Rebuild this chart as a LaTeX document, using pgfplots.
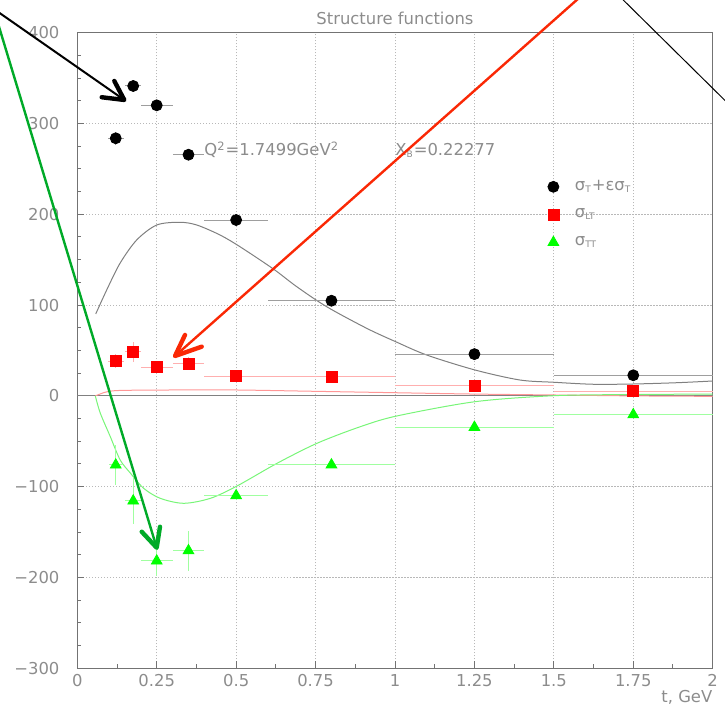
\documentclass[border=0pt]{standalone}
\usepackage{fontspec}
\setmainfont{DejaVu Sans}
\usepackage{pgfplots}
\pgfplotsset{compat=1.18}
\definecolor{txt}{gray}{0.55}
\definecolor{frame}{gray}{0.45}
\definecolor{gridc}{gray}{0.72}
\definecolor{blkcurve}{gray}{0.5}
\definecolor{blkerr}{gray}{0.62}
\definecolor{rederr}{RGB}{255,175,175}
\definecolor{grnerr}{RGB}{160,255,160}
\definecolor{redcurve}{RGB}{255,150,150}
\definecolor{grncurve}{RGB}{120,245,120}
\definecolor{arrred}{RGB}{250,40,5}
\definecolor{arrgrn}{RGB}{0,170,40}
\newcommand{\fs}{\fontsize{8.2}{9.5}\selectfont}
\newcommand{\sub}[1]{\textsubscript{\fontsize{4.5}{5}\selectfont #1}}

\pgfplotstableread{
x y ex ey
0.121 283.7 0.025 7
0.176 341.3 0.025 7
0.25 320.0 0.05 3
0.35 265.6 0.05 3
0.50 193.7 0.10 3
0.80 104.8 0.20 3
1.25 46.0 0.25 3
1.75 22.7 0.25 3
}\blackdata
\pgfplotstableread{
x y ex ey
0.121 38.4 0.025 8
0.176 48.7 0.025 11
0.25 31.5 0.05 5
0.35 35.5 0.05 7
0.50 21.6 0.10 3
0.80 20.8 0.20 3
1.25 10.9 0.25 3
1.75 5.0 0.25 3
}\reddata
\pgfplotstableread{
x y ex ey
0.121 -76.1 0.02 22
0.176 -115.7 0.025 25
0.25 -181.8 0.05 17
0.35 -170.5 0.05 22
0.50 -109.9 0.10 5
0.80 -76.0 0.20 3
1.25 -34.6 0.25 3
1.75 -20.7 0.25 3
}\greendata

\begin{document}
\begin{tikzpicture}
\begin{axis}[
  at={(0,0)}, anchor=south west, scale only axis,
  width=317.7pt, height=317.8pt,
  xmin=0, xmax=2, ymin=-300, ymax=400,
  clip=false,
  xtick={0,0.25,0.5,0.75,1,1.25,1.5,1.75,2},
  xticklabels={0,0.25,0.5,0.75,1,1.25,1.5,1.75,2},
  ytick={-300,-200,-100,0,100,200,300,400},
  yticklabels={−300,−200,−100,0,100,200,300,400},
  minor x tick num=1, minor y tick num=3,
  tick align=inside, tick pos=left,
  major tick length=3.5pt, minor tick length=2pt,
  grid=major,
  major grid style={gridc, dash pattern=on 0.6pt off 0.9pt, line width=0.4pt},
  axis line style={frame, line width=0.5pt},
  tick style={frame, line width=0.5pt},
  ticklabel style={font=\fs, text=txt},
  xticklabel style={yshift=0.5pt},
  yticklabel style={xshift=-5.4pt},
  legend style={at={(axis cs:1.48,200)}, anchor=west, draw=none, fill=none,
    font=\fs, text=txt, row sep=4.75pt, column sep=6.5pt, inner sep=0pt,
    nodes={inner sep=1.5pt}},
  legend cell align=left,
]
% zero line
\addplot[blkcurve, line width=0.5pt, forget plot] coordinates {(0,0) (2,0)};
% model curves
\addplot[blkcurve, line width=0.5pt, smooth, forget plot] coordinates {
(0.058,90.2)(0.0925,116.6)(0.1344,146.0)(0.187,171.7)(0.25,188.2)(0.3225,191.2)
(0.376,188.2)(0.4492,177.2)(0.512,164.3)(0.617,139.8)(0.6906,120.3)(0.785,98.2)
(0.911,74.4)(1.002,59.7)(1.10,45)(1.252,28.5)(1.393,17.5)(1.5,15)(1.624,12.8)
(1.75,13.1)(1.887,14.5)(2.0,16.4)};
\addplot[redcurve, line width=0.5pt, smooth, forget plot] coordinates {
(0.0567,0)(0.075,2.5)(0.0935,4.5)(0.135,6.0)(0.3,6.5)(0.5,6.5)(0.754,5)(1.0,3.5)
(1.25,2)(1.5,1)(1.75,0)(2.0,-0.5)};
\addplot[grncurve, line width=0.5pt, smooth, forget plot] coordinates {
(0.0567,0)(0.0724,-19)(0.104,-45)(0.135,-70.6)(0.167,-85)(0.209,-101.8)(0.261,-112.8)
(0.335,-118.3)(0.419,-112.8)(0.503,-99.2)(0.629,-74.2)(0.7545,-52.2)(0.891,-33.9)
(1.006,-22.1)(1.252,-6.4)(1.5,0.2)(1.75,1.5)(2.0,2)};
% data
\addplot[only marks, mark=*, mark size=2.75pt, color=black,
  error bars/.cd, x dir=both, y dir=both, x explicit, y explicit,
  error mark=none, error bar style={blkerr, line width=0.5pt}]
  table[x=x, y=y, x error=ex, y error=ey] {\blackdata};
\addlegendentry{σ\sub{T}+εσ\sub{T}}
\addplot[only marks, mark=square*, mark size=2.75pt, color=red,
  error bars/.cd, x dir=both, y dir=both, x explicit, y explicit,
  error mark=none, error bar style={rederr, line width=0.5pt}]
  table[x=x, y=y, x error=ex, y error=ey] {\reddata};
\addlegendentry{σ\sub{LT}}
\addplot[only marks, mark=triangle*, mark size=3.1pt, color=green,
  error bars/.cd, x dir=both, y dir=both, x explicit, y explicit,
  error mark=none, error bar style={grnerr, line width=0.5pt}]
  table[x=x, y=y, x error=ex, y error=ey] {\greendata};
\addlegendentry{σ\sub{TT}}
% texts
\node[anchor=base, font=\fs, text=txt, yshift=3.9pt] at (rel axis cs:0.5,1) {Structure functions};
\node[anchor=base east, inner sep=0pt, font=\fs, text=txt, yshift=-17pt] at (rel axis cs:1,0) {t, GeV};
\node[anchor=base west, inner sep=0pt, font=\fs, text=txt] at (axis cs:0.3988,264.2) {Q\textsuperscript{2}=1.7499GeV\textsuperscript{2}};
\node[anchor=base west, inner sep=0pt, font=\fs, text=txt] at (axis cs:1.0,264.2) {X\sub{B}=0.22277};
% annotation arrows
\draw[black, line width=1pt] (axis cs:-0.3,435.2) -- (axis cs:0.148,325.9);
\draw[black, line width=2.2pt, line cap=round, line join=round] (axis cs:0.0768,328.9) -- (axis cs:0.148,325.9) -- (axis cs:0.1165,346.8);
\draw[black, line width=0.5pt] (axis cs:1.6547,458) -- (axis cs:2.1017,303.6);
\draw[arrred, line width=1.2pt] (axis cs:1.643,458) -- (axis cs:0.3075,43.9);
\draw[arrred, line width=2.2pt, line cap=round, line join=round] (axis cs:0.339,67.1) -- (axis cs:0.3075,43.9) -- (axis cs:0.3916,54.2);
\draw[arrgrn, line width=1.2pt] (axis cs:-0.3,468.5) -- (axis cs:0.2499,-167.2);
\draw[arrgrn, line width=2.2pt, line cap=round, line join=round] (axis cs:0.2027,-149.6) -- (axis cs:0.2499,-167.2) -- (axis cs:0.2603,-144.1);
\coordinate (bbbl) at (axis cs:-0.2433,-351.4);
\coordinate (bbtr) at (axis cs:2.0387,436.0);
\end{axis}
\pgfresetboundingbox
\useasboundingbox (bbbl) rectangle (bbtr);
\end{tikzpicture}
\end{document}
